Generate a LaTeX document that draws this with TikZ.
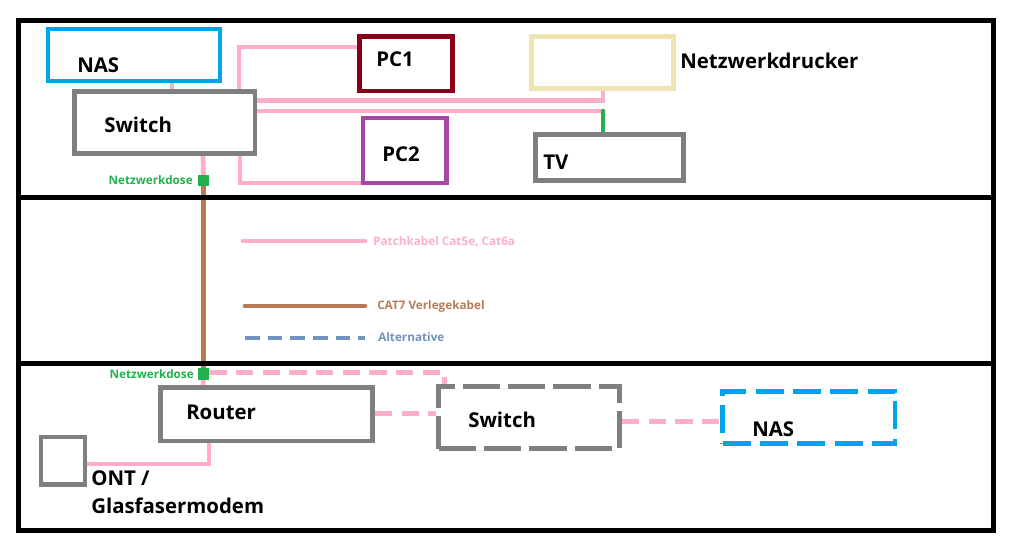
\documentclass[tikz,border=0pt]{standalone}
\usepackage{fontspec}
\setmainfont{Open Sans}
\usetikzlibrary{fit,backgrounds}
\definecolor{nasblue}{HTML}{00A2E8}
\definecolor{boxgray}{HTML}{7F7F7F}
\definecolor{pcred}{HTML}{880015}
\definecolor{pcpurple}{HTML}{A349A4}
\definecolor{beige}{HTML}{EFE4B0}
\definecolor{pink}{HTML}{FFAEC9}
\definecolor{dosegreen}{HTML}{22B14C}
\definecolor{brown}{HTML}{B97A57}
\definecolor{altblue}{HTML}{7092BE}
\tikzset{
  frame/.style={draw=black, line width=3.8pt},
  devbox/.style={draw=#1, line width=3.5pt, inner sep=0pt, fill=none},
  dashbox/.style={draw=#1, line width=3.6pt, inner sep=0pt, dash pattern=on 28pt off 6pt},
  nasdash/.style={draw=#1, line width=3.6pt, inner sep=0pt, dash pattern=on 21pt off 7pt},
  big/.style={anchor=base west, inner sep=0pt, font=\fontsize{15.3}{18}\selectfont\bfseries},
  small/.style={anchor=base west, inner sep=0pt, font=\fontsize{8.8}{10}\selectfont\bfseries},
  patch/.style={draw=pink, line width=3.6pt, line cap=round},
  patchdash/.style={draw=pink, line width=3.6pt, dash pattern=on 13pt off 7pt},
  verlege/.style={draw=brown, line width=3.6pt, line cap=round},
  altline/.style={draw=altblue, line width=3.6pt, dash pattern=on 11pt off 6pt},
  greenline/.style={draw=dosegreen, line width=3.4pt, line cap=round},
  dose/.style={fill=dosegreen, minimum size=8.4pt, inner sep=0pt},
}
\begin{document}
\begin{tikzpicture}[x=0.75pt,y=-0.75pt]
\useasboundingbox (0,0) rectangle (1009,542);
% frame and section dividers
\draw[frame] (18.5,20.5) rectangle (993.5,530.5);
\draw[frame] (18.5,197.5) -- (993.5,197.5);
\draw[frame] (18.5,363.5) -- (993.5,363.5);

% top room
\node[devbox=nasblue, fit={(48,29) (220,81)}] (nas) {};
\node[big] (nastxt) at (77,73) {NAS};
\node[devbox=boxgray, fit={(74.5,91.5) (255,153.5)}] (sw) {};
\node[big] (swtxt) at (104,132) {Switch};
\node[devbox=pcred, fit={(359.5,36.5) (452.5,91)}] (pc1) {};
\node[big] (pc1txt) at (376,66) {PC1};
\node[devbox=pcpurple, fit={(363,118) (446.5,183)}] (pc2) {};
\node[big] (pc2txt) at (382,161) {PC2};
\node[devbox=beige, fit={(531.5,36.5) (673.5,88.5)}] (drk) {};
\node[big] (drktxt) at (680,69) {Netzwerkdrucker};
\node[devbox=boxgray, fit={(535.5,134.5) (683.5,180.5)}] (tv) {};
\node[big] (tvtxt) at (543,169) {TV};
\node[dose] (dose1) at (203.5,180.5) {};
\node[small, text=dosegreen, anchor=base east] (dose1txt) at (193,184) {Netzwerkdose};

% legend
\coordinate (lp1) at (243,241);
\coordinate (lp2) at (365,241);
\node[small, text=pink] (lptxt) at (373,245) {Patchkabel Cat5e, Cat6a};
\coordinate (lb1) at (245,306);
\coordinate (lb2) at (365,306);
\node[small, text=brown] (lbtxt) at (377,309.5) {CAT7 Verlegekabel};
\coordinate (la1) at (245,338);
\coordinate (la2) at (365,338);
\node[small, text=altblue] (latxt) at (378,341) {Alternative};

% bottom room
\node[dose] (dose2) at (203.5,374) {};
\node[small, text=dosegreen, anchor=base east] (dose2txt) at (194,378) {Netzwerkdose};
\node[devbox=boxgray, fit={(160.5,387.5) (372.5,441)}] (router) {};
\node[big] (routertxt) at (186,419) {Router};
\node[devbox=boxgray, fit={(41,437) (85,484.5)}] (ont) {};
\node[big] (onttxt) at (91,485) {ONT /};
\node[big] (onttxt2) at (91,513) {Glasfasermodem};
\node[dashbox=boxgray, fit={(438.5,386.5) (619.5,448.5)}] (sw2) {};
\node[big] (sw2txt) at (468,427) {Switch};
\node[nasdash=nasblue, fit={(722.5,391.5) (895,443.5)}] (nas2) {};
\node[big] (nas2txt) at (752,436) {NAS};

\begin{scope}[on background layer]
  \draw[patch] (172,0 |- nas.south) -- (172,0 |- sw.north);
  \draw[patch] (239,0 |- sw.north) |- (pc1.west |- 0,47);
  \draw[patch] (240,0 |- sw.south) |- (pc2.west |- 0,183);
  \draw[patch] (sw.east |- 0,100.5) -| (603,0 |- drk.south);
  \coordinate (tvj) at (603,111);
  \draw[patch] (sw.east |- 0,111) -- (tvj);
  \draw[greenline] (tvj) -- (603,0 |- tv.north);
  \draw[patch] (203,0 |- sw.south) -- (dose1);
  \draw[verlege] (dose1) -- (dose2);
  \draw[patch] (dose2) -- (203,0 |- router.north);
  \draw[patchdash] (dose2.east |- 0,372.5) -| (444.5,0 |- sw2.north);
  \draw[patchdash] (router.east |- 0,413.5) -- (sw2.west |- 0,413.5);
  \draw[patchdash] (sw2.east |- 0,421.5) -- (nas2.west |- 0,421.5);
  \draw[patch] (ont.east |- 0,464) -| (209,0 |- router.south);
  \draw[patch] (lp1) -- (lp2);
  \draw[verlege] (lb1) -- (lb2);
  \draw[altline] (la1) -- (la2);
\end{scope}
\end{tikzpicture}
\end{document}
